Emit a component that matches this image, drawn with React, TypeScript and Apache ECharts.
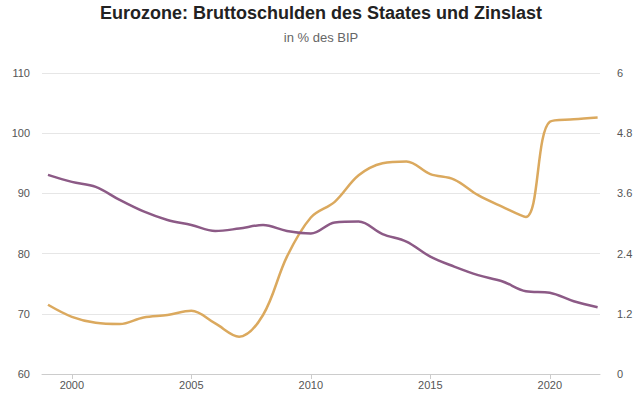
import React, { useEffect, useRef } from "react";
import * as echarts from "echarts";

const years = [1999, 2000, 2001, 2002, 2003, 2004, 2005, 2006, 2007, 2008, 2009, 2010, 2011, 2012, 2013, 2014, 2015, 2016, 2017, 2018, 2019, 2020, 2021, 2022];
const debt = [71.5, 69.5, 68.5, 68.3, 69.4, 69.8, 70.5, 68.4, 66.2, 69.8, 79.5, 86.0, 88.6, 93.0, 95.0, 95.3, 93.2, 92.3, 89.7, 87.8, 86.1, 101.9, 102.3, 102.6];
const interest = [3.97, 3.83, 3.73, 3.47, 3.24, 3.07, 2.97, 2.85, 2.9, 2.97, 2.85, 2.8, 3.02, 3.04, 2.79, 2.64, 2.34, 2.14, 1.97, 1.85, 1.65, 1.62, 1.45, 1.33];

const titleText = "Eurozone: Bruttoschulden des Staates und Zinslast";
const subtitleText = "in % des BIP";

export default function App() {
  const ref = useRef<HTMLDivElement>(null);
  useEffect(() => {
    if (!ref.current) return;
    const chart = echarts.init(ref.current, null, { renderer: "svg" });
    const font = "'Liberation Sans', Arial, sans-serif";
    chart.setOption({
      animation: false,
      backgroundColor: "#ffffff",
      title: {
        text: titleText,
        subtext: subtitleText,
        left: "center",
        top: -1,
        itemGap: 9,
        textStyle: { fontFamily: font, fontSize: 18, fontWeight: "bold", color: "#222222" },
        subtextStyle: { fontFamily: font, fontSize: 13, color: "#666666" },
      },
      grid: { left: 42, right: 42, top: 73, bottom: 22, containLabel: false },
      xAxis: {
        type: "value",
        min: 1998.75,
        max: 2022.1,
        splitNumber: 5,
        axisLine: { show: true, lineStyle: { color: "#cccccc" } },
        axisTick: { show: true, length: 5, lineStyle: { color: "#cccccc" } },
        splitLine: { show: false },
        axisLabel: {
          fontFamily: font,
          fontSize: 11,
          color: "#555555",
          margin: 5,
          showMinLabel: false,
          showMaxLabel: false,
          formatter: (v: number) => (Number.isInteger(v) ? String(v) : ""),
        },
      },
      yAxis: [
        {
          type: "value",
          min: 60,
          max: 110,
          interval: 10,
          position: "left",
          axisLine: { show: false },
          axisTick: { show: false },
          splitLine: { lineStyle: { color: "#e6e6e6" } },
          axisLabel: { fontFamily: font, fontSize: 11, color: "#555555", margin: 12 },
        },
        {
          type: "value",
          min: 0,
          max: 6,
          interval: 1.2,
          position: "right",
          axisLine: { show: false },
          axisTick: { show: false },
          splitLine: { show: false },
          axisLabel: {
            fontFamily: font,
            fontSize: 11,
            color: "#555555",
            margin: 17,
            formatter: (v: number) => String(Math.round(v * 10) / 10),
          },
        },
      ],
      series: [
        {
          name: "Bruttoschulden",
          type: "line",
          yAxisIndex: 0,
          data: years.map((y, i) => [y, debt[i]]),
          smooth: 0.35,
          showSymbol: false,
          lineStyle: { color: "#dba95e", width: 2.5 },
          itemStyle: { color: "#dba95e" },
        },
        {
          name: "Zinslast",
          type: "line",
          yAxisIndex: 1,
          data: years.map((y, i) => [y, interest[i]]),
          smooth: 0.35,
          showSymbol: false,
          lineStyle: { color: "#8c5a86", width: 2.5 },
          itemStyle: { color: "#8c5a86" },
        },
      ],
    });
    return () => chart.dispose();
  }, []);
  return <div ref={ref} style={{ width: 642, height: 396, position: "absolute", left: 0, top: 0 }} />;
}
